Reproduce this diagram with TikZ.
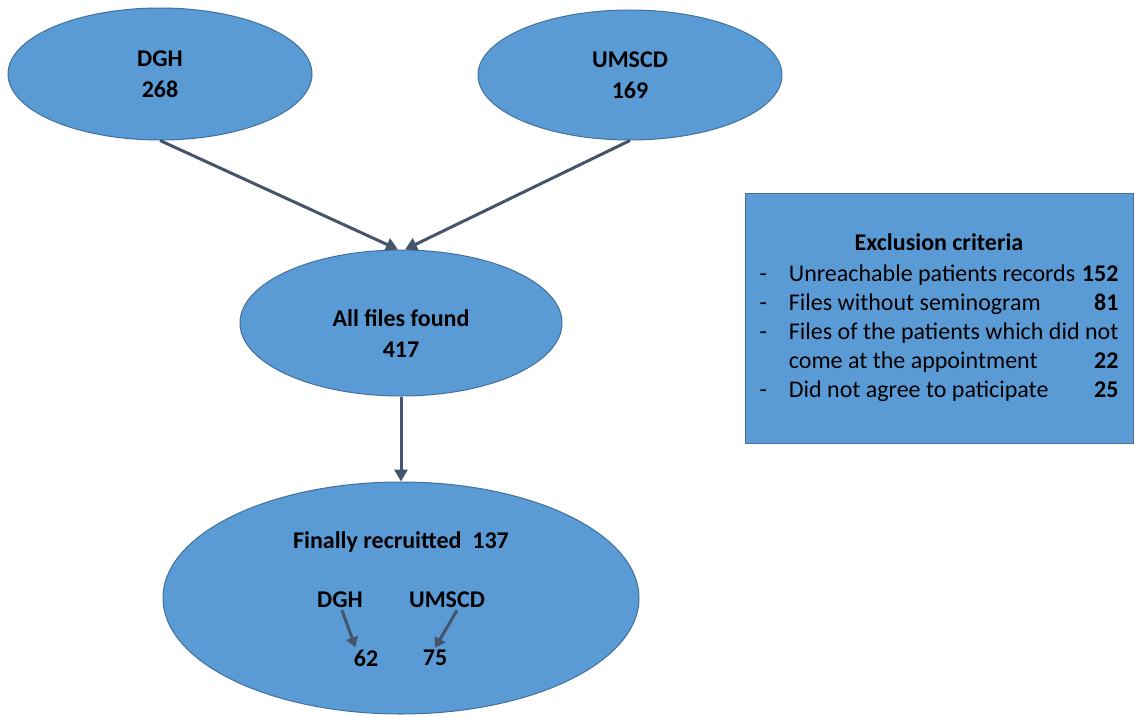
\documentclass[tikz,border=0pt]{standalone}
\usepackage{fontspec}
\setmainfont{Carlito}
\usepackage{array}
\usetikzlibrary{arrows.meta,positioning,shapes.geometric}
\definecolor{bubblefill}{RGB}{91,155,213}
\definecolor{bubbleline}{RGB}{65,113,156}
\definecolor{arrowcol}{RGB}{68,84,106}
\newcommand{\diagfont}{\fontsize{12}{15.5}\selectfont}
\tikzset{
  bubble/.style={
    ellipse,
    draw=bubbleline,
    fill=bubblefill,
    line width=0.5pt,
    align=center,
    inner sep=0pt,
    font=\diagfont\bfseries
  },
  critbox/.style={
    draw=bubbleline,
    fill=bubblefill,
    line width=0.5pt,
    inner sep=0pt,
    minimum width=194pt,
    minimum height=125pt,
    font=\fontsize{12}{14.5}\selectfont
  },
  lbl/.style={font=\diagfont\bfseries, inner sep=1pt, align=center},
  arrow/.style={-{Triangle[length=6pt,width=6.5pt]}, line width=1.5pt, draw=arrowcol},
  smallarrow/.style={-{Triangle[length=5pt,width=6pt]}, line width=1.5pt, draw=arrowcol}
}

\begin{document}
\begin{tikzpicture}[x=0.5pt, y=-0.5pt]
  \useasboundingbox (0,0) rectangle (1135,717);

  % sources
  \node[bubble, minimum width=152pt, minimum height=66pt] (dgh) at (160,74) {DGH\\268};
  \node[bubble, minimum width=152pt, minimum height=65pt] (umscd) at (630,75) {UMSCD\\169};

  % merged files
  \node[bubble, minimum width=161pt, minimum height=73pt] (all) at (401,323) {};
  \node[lbl] (alltxt) at (401,334) {All files found\\417};

  % final sample
  \node[bubble, minimum width=238pt, minimum height=116pt] (final) at (401,598) {};
  \node[lbl] (ftitle) at (401,542) {Finally recruitted\ \ 137};
  \node[lbl] (fdgh) at (340,600) {DGH};
  \node[lbl] (fumscd) at (447,600) {UMSCD};
  \node[lbl] (n62) at (366,658) {62};
  \node[lbl] (n75) at (435,658) {75};

  % exclusion criteria
  \node[critbox] (excl) at (939,318) {%
    \begin{tabular}{@{}c@{\hspace{11pt}}l@{\hspace{2pt}}r@{}}
      \multicolumn{3}{c}{\textbf{Exclusion criteria}}\\[1pt]
      - & Unreachable patients records & \textbf{152}\\
      - & Files without seminogram & \textbf{81}\\
      - & \multicolumn{2}{@{}l@{}}{Files of the patients which did not}\\
        & come at the appointment & \textbf{22}\\
      - & Did not agree to paticipate & \textbf{25}\\
    \end{tabular}};

  \draw[arrow] (dgh.south) -- ([xshift=-1.5pt]all.north);
  \draw[arrow] (umscd.south) -- ([xshift=2pt]all.north);
  \draw[arrow] (all.south) -- (final.north);
  \draw[smallarrow] ([xshift=1pt]fdgh.south) -- ([xshift=2pt]n62.north west);
  \draw[smallarrow] ([xshift=5pt]fumscd.south) -- (n75.north);
\end{tikzpicture}
\end{document}
